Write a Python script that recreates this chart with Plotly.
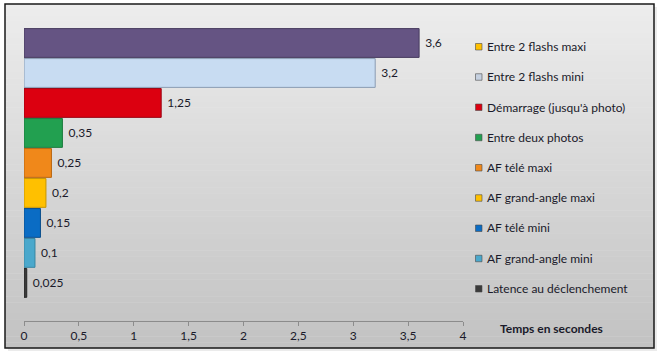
import plotly.graph_objects as go

# ---- data ----
categories = [
    "Latence au déclenchement",
    "AF grand-angle mini",
    "AF télé mini",
    "AF grand-angle maxi",
    "AF télé maxi",
    "Entre deux photos",
    "Démarrage (jusqu'à photo)",
    "Entre 2 flashs mini",
    "Entre 2 flashs maxi",
]
values = [0.025, 0.1, 0.15, 0.2, 0.25, 0.35, 1.25, 3.2, 3.6]
bar_colors = ["#3a3a3a", "#4aa8cc", "#0a6cc4", "#ffc000", "#f0881a",
              "#22a050", "#dc0010", "#c8dcf2", "#655483"]
bar_lines = ["#262626", "#3a86a2", "#0a4f8c", "#c79400", "#b8650f",
             "#1a7a3c", "#9a0010", "#8a9cb2", "#473b5e"]
# legend entries listed top to bottom
legend_names = categories[::-1]
legend_colors = ["#ffc000", "#c5d0e0", "#dc0010", "#22a050", "#f0881a",
                 "#ffc000", "#0a6cc4", "#4aa8cc", "#3a3a3a"]
tick_vals = [0, 0.5, 1, 1.5, 2, 2.5, 3, 3.5, 4]
axis_title = "Temps en secondes"

W, H = 660, 357
L, R, T, B = 24, 463, 28, 321
FONT = "Lato"
TXT = "#1a1a2a"

def px_x(p):
    return (p - L) / (R - L)

def px_y(p):
    return (B - p) / (B - T)

labels = ["\u00a0" + str(v).replace(".", ",") for v in values]

fig = go.Figure()
fig.add_trace(go.Bar(
    y=categories, x=values, orientation="h",
    marker=dict(color=bar_colors, line=dict(color=bar_lines, width=1)),
    text=labels, textposition="outside", cliponaxis=False,
    textfont=dict(family=FONT, size=12, color=TXT),
    showlegend=False, hoverinfo="x+y",
))

shapes = []
annotations = []

# background gradient frame
N = 60
y0p, y1p = 4, 348
x0p, x1p = 5, 654
shapes.append(dict(type="rect", xref="paper", yref="paper",
                   x0=px_x(x0p + 3), x1=px_x(x1p + 3), y0=px_y(y1p + 3), y1=px_y(y0p + 3),
                   fillcolor="rgba(0,0,0,0.08)", line=dict(width=0), layer="below"))
for k in range(N):
    a = y0p + (y1p - y0p) * k / N
    b = y0p + (y1p - y0p) * (k + 1) / N
    t = (k + 0.5) / N
    c0, c1 = 237, 194
    g = round(c0 + (c1 - c0) * t)
    shapes.append(dict(type="rect", xref="paper", yref="paper",
                       x0=px_x(x0p), x1=px_x(x1p), y0=px_y(b) - 0.001, y1=px_y(a),
                       fillcolor=f"rgb({g},{g},{g})", line=dict(width=0), layer="below"))
shapes.append(dict(type="rect", xref="paper", yref="paper",
                   x0=px_x(x0p), x1=px_x(x1p), y0=px_y(y1p), y1=px_y(y0p),
                   fillcolor="rgba(0,0,0,0)", line=dict(color="#1a1a1a", width=1.5),
                   layer="below"))

# legend (drawn as keys + text)
leg_top, leg_step = 46.5, 30.25
for i, (name, col) in enumerate(zip(legend_names, legend_colors)):
    cy = leg_top + i * leg_step
    shapes.append(dict(type="rect", xref="paper", yref="paper",
                       x0=px_x(475.5), x1=px_x(482), y0=px_y(cy + 3.5), y1=px_y(cy - 3),
                       fillcolor=col, line=dict(color="#4a4a4a", width=0.6), layer="above"))
    annotations.append(dict(text=name, xref="paper", yref="paper",
                            x=px_x(485), y=px_y(cy), xanchor="left", yanchor="middle",
                            showarrow=False, font=dict(family=FONT, size=12, color=TXT)))

annotations.append(dict(text=f"<b>{axis_title}</b>", xref="paper", yref="paper",
                        x=px_x(551), y=px_y(328), xanchor="center", yanchor="middle",
                        showarrow=False, font=dict(family=FONT, size=12, color=TXT)))

fig.update_layout(
    width=W, height=H,
    margin=dict(l=L, r=W - R, t=T, b=H - B, autoexpand=False),
    paper_bgcolor="white", plot_bgcolor="rgba(0,0,0,0)",
    separators=", ",
    font=dict(family=FONT, size=12, color=TXT),
    bargap=0.04,
    showlegend=False,
    shapes=shapes,
    annotations=annotations,
    xaxis=dict(range=[0, 4], tickvals=tick_vals, showgrid=False, zeroline=False,
               showline=True, linecolor="#8c8c8c", linewidth=1,
               ticks="outside", ticklen=4, tickcolor="#8c8c8c",
               tickfont=dict(family=FONT, size=12, color=TXT)),
    yaxis=dict(type="category", categoryorder="array", categoryarray=categories,
               range=[-1.27, 8.5], showticklabels=False, showgrid=False,
               zeroline=False, showline=False, ticks=""),
)

fig.write_html("out.html", config={"displayModeBar": False},
               post_script="document.body.style.margin='0';document.body.style.overflow='hidden';")
